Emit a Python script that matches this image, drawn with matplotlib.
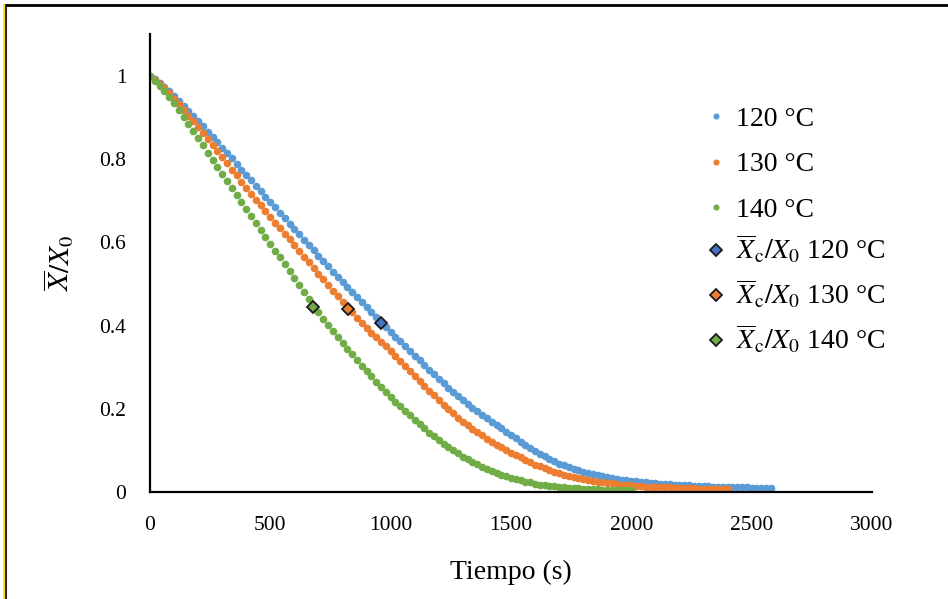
import numpy as np
import matplotlib
matplotlib.use("Agg")
import matplotlib.pyplot as plt
from matplotlib.lines import Line2D

# sampling step of the measurements (s)
STEP = 20

x_120 = [1.000, 0.992, 0.983, 0.973, 0.963, 0.952, 0.941, 0.929, 0.917, 0.905,
         0.892, 0.879, 0.866, 0.854, 0.841, 0.828, 0.815, 0.802, 0.788, 0.775,
         0.762, 0.749, 0.736, 0.723, 0.710, 0.697, 0.684, 0.671, 0.658, 0.645,
         0.632, 0.619, 0.606, 0.594, 0.581, 0.568, 0.555, 0.543, 0.530, 0.518,
         0.505, 0.493, 0.481, 0.468, 0.456, 0.444, 0.432, 0.420, 0.408, 0.396,
         0.384, 0.373, 0.362, 0.350, 0.339, 0.328, 0.317, 0.306, 0.294, 0.283,
         0.272, 0.261, 0.251, 0.241, 0.230, 0.220, 0.211, 0.202, 0.194, 0.185,
         0.177, 0.169, 0.161, 0.153, 0.145, 0.137, 0.129, 0.121, 0.113, 0.105,
         0.098, 0.092, 0.086, 0.080, 0.074, 0.068, 0.064, 0.060, 0.056, 0.052,
         0.048, 0.045, 0.043, 0.040, 0.038, 0.035, 0.033, 0.032, 0.030, 0.029,
         0.027, 0.026, 0.025, 0.023, 0.022, 0.021, 0.020, 0.019, 0.019, 0.018,
         0.017, 0.016, 0.016, 0.015, 0.015, 0.014, 0.014, 0.013, 0.013, 0.012,
         0.012, 0.012, 0.011, 0.011, 0.011, 0.010, 0.010, 0.010, 0.009, 0.009]

x_130 = [1.000, 0.991, 0.981, 0.970, 0.958, 0.945, 0.932, 0.918, 0.905, 0.891,
         0.877, 0.863, 0.848, 0.834, 0.819, 0.805, 0.790, 0.775, 0.761, 0.746,
         0.731, 0.717, 0.703, 0.689, 0.675, 0.661, 0.647, 0.634, 0.620, 0.607,
         0.593, 0.579, 0.566, 0.552, 0.539, 0.525, 0.511, 0.498, 0.484, 0.471,
         0.457, 0.444, 0.432, 0.419, 0.407, 0.394, 0.383, 0.372, 0.361, 0.350,
         0.339, 0.327, 0.315, 0.304, 0.292, 0.280, 0.268, 0.256, 0.244, 0.232,
         0.220, 0.210, 0.199, 0.189, 0.178, 0.168, 0.160, 0.152, 0.144, 0.136,
         0.128, 0.121, 0.114, 0.108, 0.101, 0.094, 0.088, 0.083, 0.077, 0.072,
         0.066, 0.062, 0.058, 0.053, 0.049, 0.045, 0.042, 0.039, 0.036, 0.034,
         0.031, 0.029, 0.027, 0.025, 0.024, 0.022, 0.021, 0.020, 0.018, 0.017,
         0.016, 0.015, 0.014, 0.013, 0.013, 0.012, 0.012, 0.011, 0.011, 0.010,
         0.010, 0.010, 0.009, 0.009, 0.008, 0.008, 0.008, 0.008, 0.007, 0.007,
         0.007]

x_140 = [1.000, 0.989, 0.977, 0.964, 0.950, 0.936, 0.919, 0.902, 0.885, 0.867,
         0.850, 0.833, 0.816, 0.798, 0.781, 0.764, 0.747, 0.730, 0.714, 0.697,
         0.680, 0.663, 0.647, 0.630, 0.614, 0.597, 0.580, 0.564, 0.547, 0.531,
         0.514, 0.498, 0.481, 0.465, 0.448, 0.432, 0.417, 0.402, 0.387, 0.373,
         0.358, 0.344, 0.331, 0.317, 0.304, 0.290, 0.278, 0.265, 0.253, 0.240,
         0.228, 0.217, 0.206, 0.195, 0.184, 0.173, 0.163, 0.153, 0.143, 0.134,
         0.124, 0.116, 0.108, 0.100, 0.093, 0.085, 0.079, 0.073, 0.067, 0.061,
         0.055, 0.051, 0.046, 0.042, 0.038, 0.034, 0.031, 0.028, 0.025, 0.023,
         0.020, 0.018, 0.017, 0.015, 0.014, 0.012, 0.011, 0.010, 0.009, 0.009,
         0.008, 0.008, 0.007, 0.007, 0.006, 0.006, 0.006, 0.005, 0.005, 0.005,
         0.005]

# critical points (time, Xc/X0)
crit_t = [962, 824, 679]
crit_x = [0.406, 0.441, 0.445]

labels = ["120 °C", "130 °C", "140 °C"]
dot_colors = ["#5B9BD5", "#ED7D31", "#70AD47"]
crit_colors = ["#4472C4", "#ED7D31", "#70AD47"]


def main():
    plt.rcParams["font.family"] = ["Liberation Serif", "DejaVu Serif"]
    plt.rcParams["mathtext.fontset"] = "stix"

    fig = plt.figure(figsize=(9.48, 5.99), dpi=100)
    ax = fig.add_axes([0.1582, 0.1786, 0.7616, 0.764])

    dots = []
    series = [x_120, x_130, x_140]
    for y, lab, c in zip(series, labels, dot_colors):
        t = np.arange(len(y)) * STEP
        h, = ax.plot(t, y, linestyle="none", marker="o", markersize=5.5,
                     markerfacecolor=c, markeredgecolor="none", label=lab)
        dots.append(h)

    crits = []
    for tc, xc, lab, c in zip(crit_t, crit_x, labels, crit_colors):
        h, = ax.plot([tc], [xc], linestyle="none", marker="D", markersize=6.5,
                     markerfacecolor=c, markeredgecolor="#1a1a1a",
                     markeredgewidth=1.3,
                     label=r"$\overline{X}_{\mathrm{c}}/X_0$ " + lab)
        crits.append(h)

    ax.set_xlim(0, 3000)
    ax.set_ylim(0, 1.1)
    ax.set_xticks([0, 500, 1000, 1500, 2000, 2500, 3000])
    ax.set_yticks([0, 0.2, 0.4, 0.6, 0.8, 1.0])
    ax.set_yticklabels(["0", "0.2", "0.4", "0.6", "0.8", "1"])
    ax.tick_params(length=0, labelsize=15.5, pad=17)
    ax.tick_params(axis="y", pad=17)
    for side in ["top", "right"]:
        ax.spines[side].set_visible(False)
    for side in ["left", "bottom"]:
        ax.spines[side].set_linewidth(1.6)
        ax.spines[side].set_color("black")

    ax.set_xlabel("Tiempo (s)", fontsize=20, labelpad=18)
    ax.set_ylabel(r"$\overline{X}/X_0$", fontsize=21, labelpad=17)

    leg_kw = dict(bbox_transform=fig.transFigure, frameon=False, fontsize=20,
                  handletextpad=0.2, handlelength=1.0, borderpad=0,
                  borderaxespad=0)
    leg1 = ax.legend(handles=dots, loc="center left",
                     bbox_to_anchor=(0.741, 0.725), labelspacing=0.73,
                     markerscale=0.8, **leg_kw)
    ax.add_artist(leg1)
    ax.legend(handles=crits, loc="center left",
              bbox_to_anchor=(0.741, 0.5085), labelspacing=0.45,
              markerscale=1.0, **leg_kw)

    # outer frame of the picture
    fig.add_artist(Line2D([0.005, 1.0], [0.991, 0.991], color="black",
                          linewidth=2.0, transform=fig.transFigure))
    fig.add_artist(Line2D([0.004, 0.004], [0.0, 0.991], color="#FFE600",
                          linewidth=2.0, transform=fig.transFigure))
    fig.add_artist(Line2D([0.0065, 0.0065], [0.0, 0.991], color="black",
                          linewidth=1.2, transform=fig.transFigure))

    fig.savefig("out.png", dpi=100)
    plt.close(fig)


if __name__ == "__main__":
    main()
